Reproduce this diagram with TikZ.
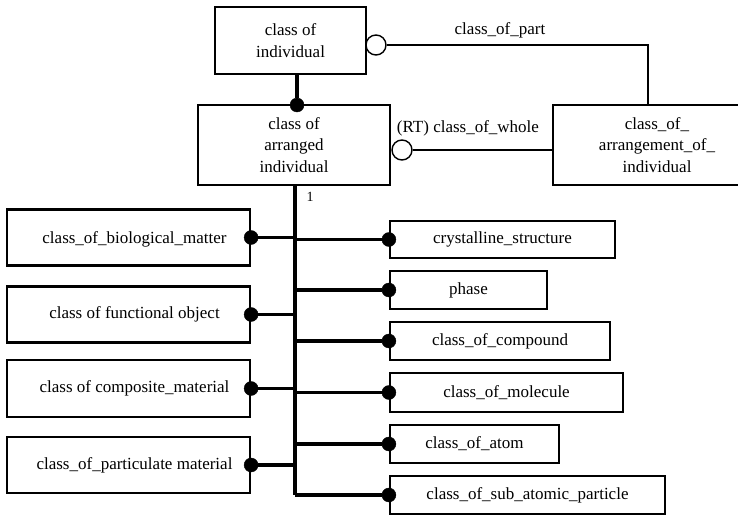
\documentclass[tikz,border=0pt]{standalone}
\usepackage{fontspec}
\setmainfont{Liberation Serif}
\begin{document}
\begin{tikzpicture}[x=1pt,y=-1pt,
  box/.style={draw, line width=2.2pt, rectangle, inner sep=0pt, align=center,
              font=\fontsize{17}{21.5}\selectfont},
  dotmark/.style={circle, fill, draw, inner sep=0pt, minimum size=14pt},
  ringmark/.style={circle, draw, line width=1.4pt, fill=white, inner sep=0pt, minimum size=20pt},
  bus/.style={line width=3.4pt},
  thinline/.style={line width=1.3pt},
  lbl/.style={font=\fontsize{17}{20}\selectfont, inner sep=0pt}]
\useasboundingbox (0,0) rectangle (738,516);

% upper part: individual, arranged individual, arrangement
\node[box, minimum width=151pt, minimum height=67pt] (ind) at (290.5,40.5) {class of\\individual};
\node[box, minimum width=192pt, minimum height=80pt] (arr) at (294,145) {class of\\arranged\\individual};
\node[box, minimum width=208pt, minimum height=80pt] (arrg) at (657,145) {class\_of\_\\arrangement\_of\_\\individual};

\node[ringmark] (r1) at (376,45) {};
\coordinate (pc) at (648,45);
\draw[thinline] (r1.east) -- (pc) -- (pc |- arrg.north);
\node[lbl] (lpart) at (500,30) {class\_of\_part};

\node[ringmark] (r2) at (402,150) {};
\draw[thinline] (r2.east) -- (r2 -| arrg.west);
\node[lbl] (lwhole) at (468,128) {(RT) class\_of\_whole};

\node[dotmark] (d0) at (297,105) {};
\draw[bus] (d0) -- (d0 |- ind.south);

% vertical bus
\coordinate (busx) at (295,0);
\node[lbl, font=\fontsize{14}{16}\selectfont] (one) at (310,197) {1};

% left subtypes
\node[box, minimum width=243pt, minimum height=56pt, text depth=0pt] (bio) at (128.5,237.5) {\hspace{12pt}class\_of\_biological\_matter};
\node[box, minimum width=243pt, minimum height=56pt] (func) at (128.5,314.5) {\hspace{12pt}class of functional object};
\node[box, minimum width=243pt, minimum height=57pt] (comp) at (128.5,388.5) {\hspace{12pt}class of composite\_material};
\node[box, minimum width=243pt, minimum height=56pt] (part) at (128.5,465) {\hspace{12pt}class\_of\_particulate material};

% right subtypes
\node[box, minimum width=225pt, minimum height=37pt] (cryst) at (502.5,239.5) {crystalline\_structure};
\node[box, minimum width=157pt, minimum height=38pt] (phase) at (468.5,290) {phase};
\node[box, minimum width=220pt, minimum height=38pt] (cpd) at (500,341) {class\_of\_compound};
\node[box, minimum width=233pt, minimum height=39pt] (mol) at (506.5,392.5) {class\_of\_molecule};
\node[box, minimum width=169pt, minimum height=38pt] (atom) at (474.5,444) {class\_of\_atom};
\node[box, minimum width=275pt, minimum height=38pt] (sub) at (527.5,495) {class\_of\_sub\_atomic\_particle};

\foreach \b in {bio,func,comp,part}
  \node[dotmark] (d\b) at (\b.east) {};
\foreach \b in {cryst,phase,cpd,mol,atom,sub}
  \node[dotmark] (d\b) at (\b.west) {};

\draw[bus] (arr.south -| busx) -- (dsub -| busx);
\foreach \b in {bio,func,comp,part,cryst,phase,cpd,mol,atom,sub}
  \draw[bus] (d\b) -- (d\b -| busx);
\end{tikzpicture}
\end{document}
